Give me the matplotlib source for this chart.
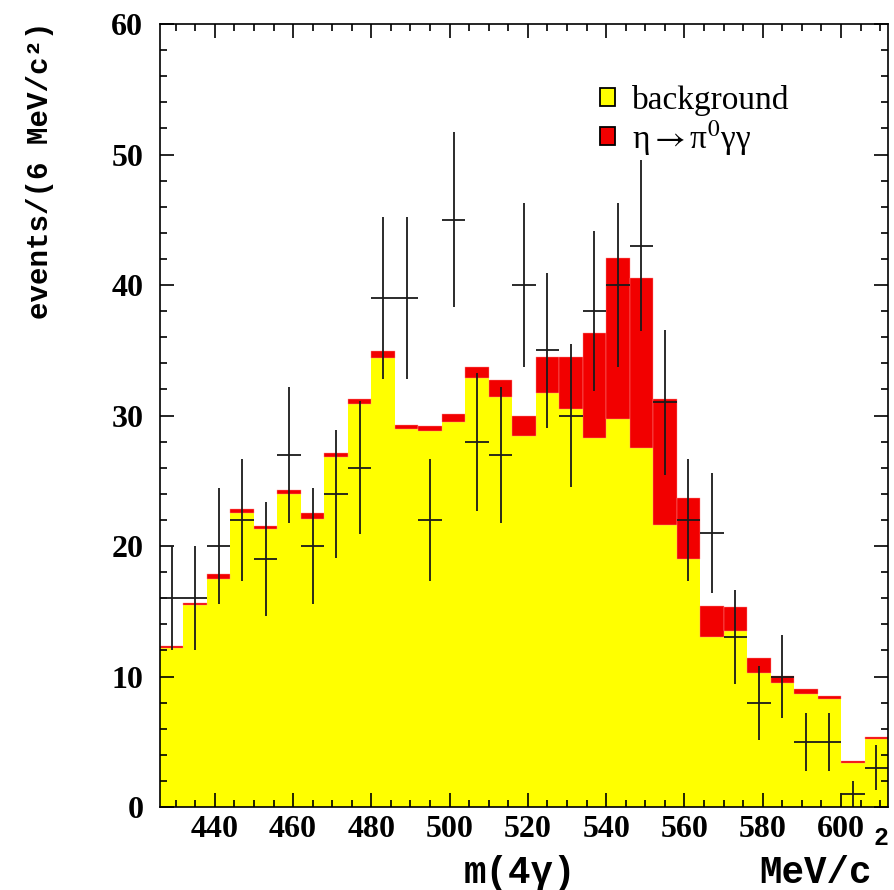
import matplotlib

matplotlib.use("Agg")
import matplotlib.pyplot as plt
from matplotlib.patches import Patch
from matplotlib.ticker import MultipleLocator
import numpy as np

# 6 MeV/c^2 bins from 426 to 612
bin_edges = np.arange(426, 613, 6)

background = [12.2, 15.5, 17.5, 22.5, 21.3, 24.0, 22.1, 26.8, 30.9, 34.4,
              29.0, 28.8, 29.5, 32.9, 31.4, 28.4, 31.75, 30.5, 28.25, 29.7,
              27.5, 21.6, 19.0, 13.05, 13.5, 10.25, 9.48, 8.66, 8.28, 3.35, 5.2]
signal = [0.15, 0.15, 0.35, 0.3, 0.2, 0.3, 0.4, 0.3, 0.4, 0.55,
          0.3, 0.4, 0.6, 0.85, 1.3, 1.6, 2.75, 4.0, 8.05, 12.35,
          13.0, 9.65, 4.7, 2.35, 1.8, 1.2, 0.55, 0.35, 0.2, 0.15, 0.2]
data = [16, 16, 20, 22, 19, 27, 20, 24, 26, 39,
        39, 22, 45, 28, 27, 40, 35, 30, 38, 40,
        43, 31, 22, 21, 13, 8, 10, 5, 5, 1, 3]
data_err = [4.0, 4.0, 4.47, 4.69, 4.36, 5.2, 4.47, 4.9, 5.1, 6.24,
            6.24, 4.69, 6.71, 5.29, 5.2, 6.32, 5.92, 5.48, 6.16, 6.32,
            6.56, 5.57, 4.69, 4.58, 3.61, 2.83, 3.16, 2.24, 2.24, 1.0, 1.73]

YELLOW = "#ffff00"
RED = "#f20000"

plt.rcParams["mathtext.fontset"] = "stix"

fig = plt.figure(figsize=(8.95, 8.90), dpi=100)
ax = fig.add_axes([160 / 895, 83 / 890, 728 / 895, 783 / 890])

left = bin_edges[:-1]
width = np.diff(bin_edges)
centers = left + width / 2

ax.bar(left, background, width=width, align="edge", color=YELLOW, linewidth=0)
ax.bar(left, signal, width=width, bottom=background, align="edge", color=RED,
       edgecolor="#ff9090", linewidth=0.3)
ax.errorbar(centers, data, xerr=width / 2, yerr=data_err, fmt="none",
            ecolor="#1a1a1a", elinewidth=1.3, capsize=0)

ax.set_xlim(426, 612)
ax.set_ylim(0, 60)
ax.xaxis.set_major_locator(MultipleLocator(20))
ax.xaxis.set_minor_locator(MultipleLocator(5))
ax.yaxis.set_major_locator(MultipleLocator(10))
ax.yaxis.set_minor_locator(MultipleLocator(2))
ax.tick_params(which="both", direction="in", top=True, right=True, width=1.2)
ax.tick_params(which="major", length=10)
ax.tick_params(which="minor", length=5)
ax.tick_params(axis="y", pad=12)
ax.tick_params(axis="x", pad=6)
for sp in ax.spines.values():
    sp.set_linewidth(1.2)

for lbl in ax.get_xticklabels() + ax.get_yticklabels():
    lbl.set_fontfamily("Liberation Serif")
    lbl.set_fontweight("bold")
    lbl.set_fontsize(23)

handles = [Patch(facecolor=YELLOW, edgecolor="black", linewidth=1.3),
           Patch(facecolor=RED, edgecolor="black", linewidth=1.3)]
ax.legend(handles, ["background", r"η$\rightarrow$π$^{0}$γγ"],
          loc="upper left", bbox_to_anchor=(0.582, 0.943), frameon=False,
          borderpad=0, handlelength=0.45, handleheight=0.45, handletextpad=0.5,
          labelspacing=0.05,
          prop={"family": ["Liberation Serif", "DejaVu Serif"], "size": 24})

fig.text(40 / 895, 1 - 170 / 890, "events/(6 MeV/c²)", rotation=90,
         ha="center", va="center", family="Liberation Mono", weight="bold",
         fontsize=21)
fig.text(520 / 895, 1 - 883 / 890, "m(4γ)", ha="center", va="baseline",
         family="Liberation Mono", weight="bold", fontsize=27)
fig.text(872 / 895, 1 - 883 / 890, "MeV/c", ha="right", va="baseline",
         family="Liberation Mono", weight="bold", fontsize=27)
fig.text(874 / 895, 1 - 845 / 890, "2", ha="left", va="baseline",
         family="Liberation Mono", weight="bold", fontsize=18)

fig.savefig("out.png", dpi=100)
